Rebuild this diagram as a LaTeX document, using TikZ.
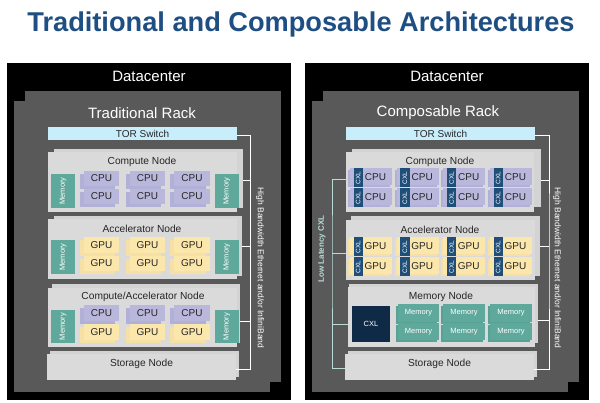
\documentclass[tikz,border=0pt]{standalone}
\usepackage{fontspec}
\usepackage{graphicx}
\setmainfont{Liberation Sans}
\usetikzlibrary{calc}
\definecolor{titleblue}{HTML}{1F4E82}
\definecolor{rackgray}{HTML}{595959}
\definecolor{nodegray}{HTML}{DADADA}
\definecolor{nodeback}{HTML}{D3D3D3}
\definecolor{torblue}{HTML}{C9EEFB}
\definecolor{memteal}{HTML}{5FA89C}
\definecolor{memback}{HTML}{58A195}
\definecolor{cpulav}{HTML}{B9B8DC}
\definecolor{cpuback}{HTML}{B1B0D6}
\definecolor{gpuyel}{HTML}{FBE6AC}
\definecolor{gpuback}{HTML}{F6E0A6}
\definecolor{cxlblue}{HTML}{1F4E79}
\definecolor{cxlnavy}{HTML}{0E2A47}
\definecolor{cxlline}{HTML}{B9DDD6}
\tikzset{
  box/.style={inner sep=0pt,outer sep=0pt,align=center,text=black!85},
  rackfill/.style={box,fill=rackgray},
  frontplate/.style={box,fill=nodegray},
  backplate/.style={box,fill=nodeback},
  torbox/.style={box,fill=torblue,font=\fontsize{10}{12}\selectfont},
  memstick/.style={box,fill=memteal,text=white,font=\fontsize{7.5}{9}\selectfont},
  cpucell/.style={box,fill=cpulav,font=\fontsize{10}{12}\selectfont},
  cpushade/.style={box,fill=cpuback},
  gpucell/.style={box,fill=gpuyel,font=\fontsize{10}{12}\selectfont},
  gpushade/.style={box,fill=gpuback},
  memcell/.style={box,fill=memteal,text=white,font=\fontsize{7.5}{9}\selectfont},
  memshade/.style={box,fill=memback},
  cxlchip/.style={box,fill=cxlblue,text=white,font=\fontsize{6.5}{8}\selectfont},
  cxlbig/.style={box,fill=cxlnavy,text=white,font=\fontsize{7.5}{9}\selectfont},
  caption/.style={inner sep=0pt,text=black!85,font=\fontsize{10.2}{12}\selectfont},
  bigcaption/.style={inner sep=0pt,text=white,font=\fontsize{15}{18}\selectfont},
  ethlink/.style={draw=white,line width=0.9pt},
  cxllink/.style={draw=cxlline,line width=0.9pt},
}
% Rectangle node given by its corners: style, name, x0, y0, x1, y1, text
\newcommand{\blk}[7]{%
  \pgfmathsetmacro{\bw}{#5-#3}\pgfmathsetmacro{\bh}{#6-#4}%
  \pgfmathsetmacro{\bx}{(#3+#5)/2}\pgfmathsetmacro{\by}{(#4+#6)/2}%
  \node[#1,minimum width=\bw pt,minimum height=\bh pt] (#2) at (\bx,\by) {#7};}
% Pair of stacked plates forming a node enclosure: name, front corners, back corners
\newcommand{\plates}[9]{%
  \blk{backplate}{#1b}{#6}{#7}{#8}{#9}{}
  \blk{frontplate}{#1}{#2}{#3}{#4}{#5}{}}
% Card with a shade behind it: front style, shade style, name, x0, y0, x1, y1, text
\newcommand{\card}[8]{%
  \pgfmathsetmacro{\sxa}{#4-4}\pgfmathsetmacro{\sya}{#5+3}%
  \pgfmathsetmacro{\sxb}{#6-4}\pgfmathsetmacro{\syb}{#7+3}%
  \blk{#2}{#3s}{\sxa}{\sya}{\sxb}{\syb}{}
  \blk{#1}{#3}{#4}{#5}{#6}{#7}{#8}}
% Processor card with a CXL chip on its left: front style, shade style, name, x, y, text
\newcommand{\cxlcard}[6]{%
  \pgfmathsetmacro{\sxa}{#4-2}\pgfmathsetmacro{\sya}{#5+2}%
  \pgfmathsetmacro{\sxb}{#4+40}\pgfmathsetmacro{\syb}{#5+19}%
  \blk{#2}{#3s}{\sxa}{\sya}{\sxb}{\syb}{}
  \pgfmathsetmacro{\sxb}{#4+42}\pgfmathsetmacro{\syb}{#5+17}%
  \blk{#1}{#3}{#4}{#5}{\sxb}{\syb}{}
  \pgfmathsetmacro{\sxa}{#4+3.5}\pgfmathsetmacro{\sxb}{#4+13}\pgfmathsetmacro{\syb}{#5+18.5}%
  \blk{cxlchip}{#3c}{\sxa}{#5}{\sxb}{\syb}{\rotatebox{90}{CXL}}
  \node[inner sep=0pt,text=black!85,font=\fontsize{10}{12}\selectfont] (#3t) at (#4+25.5,#5+8.5) {#6};}
% Datacenter shell common to both panels: prefix, rack title, title x
\newcommand{\shell}[3]{%
  \blk{box,fill=black}{#1dc}{7}{63}{291}{400}{}
  \blk{rackfill}{#1rb}{25}{91}{281}{382}{}
  \blk{rackfill}{#1rf}{14}{101}{270}{392}{}
  \node[bigcaption] (#1dct) at (149,76) {Datacenter};
  \node[bigcaption] (#1rt) at (#3,113) {#2};
  \blk{torbox}{#1tor}{48}{127}{237}{140}{TOR Switch}}
\begin{document}
\begin{tikzpicture}[x=1pt,y=-1pt]
\useasboundingbox[fill=white] (0,0) rectangle (600,403);
\node[inner sep=0pt,text=titleblue,font=\bfseries\fontsize{27.2}{30}\selectfont] (title) at (301,24) {Traditional and Composable Architectures};

% Traditional rack
\shell{l}{Traditional Rack}{142}
\plates{lcomp}{48}{152}{237}{212}{54}{149}{243}{208}
\node[caption] (lcompt) at (142,162) {Compute Node};
\plates{lacc}{48}{219}{237}{279}{54}{216}{242}{276}
\node[caption] (lacct) at (142,229) {Accelerator Node};
\plates{lmix}{48}{288}{237}{347}{52}{284}{240}{343}
\node[caption] (lmixt) at (143,297) {Compute/Accelerator Node};
\plates{lsto}{47}{354}{236}{380}{50}{351}{239}{377}
\node[caption] (lstot) at (141.5,364) {Storage Node};

\foreach \nm/\ya/\yb in {lcomp/174/208,lacc/240/274,lmix/310/343}{
  \blk{memstick}{\nm ml}{51}{\ya}{75}{\yb}{\rotatebox{90}{Memory}}
  \blk{memstick}{\nm mr}{214.5}{\ya}{239}{\yb}{\rotatebox{90}{Memory}}
}
\foreach \k/\xa/\xb in {1/84/119,2/130/165,3/174/210}{
  \card{cpucell}{cpushade}{lca\k}{\xa}{171}{\xb}{186}{CPU}
  \card{cpucell}{cpushade}{lcb\k}{\xa}{189}{\xb}{204}{CPU}
  \card{gpucell}{gpushade}{lga\k}{\xa}{237}{\xb}{253}{GPU}
  \card{gpucell}{gpushade}{lgb\k}{\xa}{256}{\xb}{271}{GPU}
  \card{cpucell}{cpushade}{lma\k}{\xa}{305}{\xb}{321}{CPU}
  \card{gpucell}{gpushade}{lmb\k}{\xa}{324}{\xb}{340}{GPU}
}
\coordinate (lbus) at (250.5,250);
\draw[ethlink] ([yshift=-1.5pt]ltor.east) -| (lbus) |- ([yshift=-2pt]lsto.east);
\draw[ethlink] ([yshift=-1.5pt]lcompb.east) -- ([yshift=-1.5pt]lcompb.east -| lbus);
\draw[ethlink] (laccb.east) -- (laccb.east -| lbus);
\draw[ethlink] ([yshift=-7.5pt]lmixb.east) -- ([yshift=-7.5pt]lmixb.east -| lbus);
\node[rotate=-90,inner sep=0pt,text=white,font=\fontsize{8.5}{10}\selectfont] (leth) at (260,268) {High Bandwidth Ethernet and/or InfiniBand};

% Composable rack
\begin{scope}[xshift=298pt]
\shell{r}{Composable Rack}{140}
\plates{rcomp}{48}{152}{235.5}{212}{54}{149}{243}{207}
\node[caption] (rcompt) at (142,162) {Compute Node};
\plates{racc}{47.5}{220}{237}{280}{53}{216}{242}{276}
\node[caption] (racct) at (142,230) {Accelerator Node};
\plates{rmem}{49.5}{287}{237}{347}{51}{284}{240}{343}
\node[caption] (rmemt) at (143,297) {Memory Node};
\plates{rsto}{47}{354}{236}{380}{50}{351}{239}{377}
\node[caption] (rstot) at (141.5,364) {Storage Node};

\foreach \k/\xa in {1/52,2/98.7,3/145.3,4/192}{
  \cxlcard{cpucell}{cpushade}{rca\k}{\xa}{168.5}{CPU}
  \cxlcard{cpucell}{cpushade}{rcb\k}{\xa}{188.5}{CPU}
  \cxlcard{gpucell}{gpushade}{rga\k}{\xa}{237.5}{GPU}
  \cxlcard{gpucell}{gpushade}{rgb\k}{\xa}{257.5}{GPU}
}
\blk{cxlbig}{rcxl}{54}{306}{92}{342}{CXL}
\foreach \k/\xa/\xb in {1/100/141,2/145/187,3/192/234}{
  \pgfmathsetmacro{\dxa}{\xa-2}\pgfmathsetmacro{\dxb}{\xb-2}
  \blk{memshade}{rmbs\k}{\dxa}{306}{\dxb}{324}{}
  \blk{memcell}{rmb\k}{\xa}{304}{\xb}{322}{Memory}
  \blk{memshade}{rmas\k}{\dxa}{325}{\dxb}{342}{}
  \blk{memcell}{rma\k}{\xa}{323}{\xb}{340}{Memory}
}
\coordinate (rbus) at (251,250);
\draw[ethlink] ([yshift=-1.5pt]rtor.east) -| (rbus) |- ([yshift=-2pt]rsto.east);
\draw[ethlink] ([yshift=-2pt]rcompb.east) -- ([yshift=-2pt]rcompb.east -| rbus);
\draw[ethlink] (raccb.east) -- (raccb.east -| rbus);
\draw[ethlink] ([yshift=-6.5pt]rmemb.east) -- ([yshift=-6.5pt]rmemb.east -| rbus);
\node[rotate=-90,inner sep=0pt,text=white,font=\fontsize{8.5}{10}\selectfont] (reth) at (259,268) {High Bandwidth Ethernet and/or InfiniBand};
\coordinate (cxlbus) at (34,250);
\draw[cxllink] (rca1s.west) -| (cxlbus) |- ([yshift=-1pt]rsto.west);
\draw[cxllink] ([yshift=-3pt]racc.west) -- ([yshift=-3pt]racc.west -| cxlbus);
\draw[cxllink] (rmem.west |- rcxl) -- (rcxl -| cxlbus);
\node[rotate=90,inner sep=0pt,text=cxlline,font=\bfseries\fontsize{8}{10}\selectfont] (rlow) at (24,249) {Low Latency CXL};
\end{scope}
\end{tikzpicture}
\end{document}
